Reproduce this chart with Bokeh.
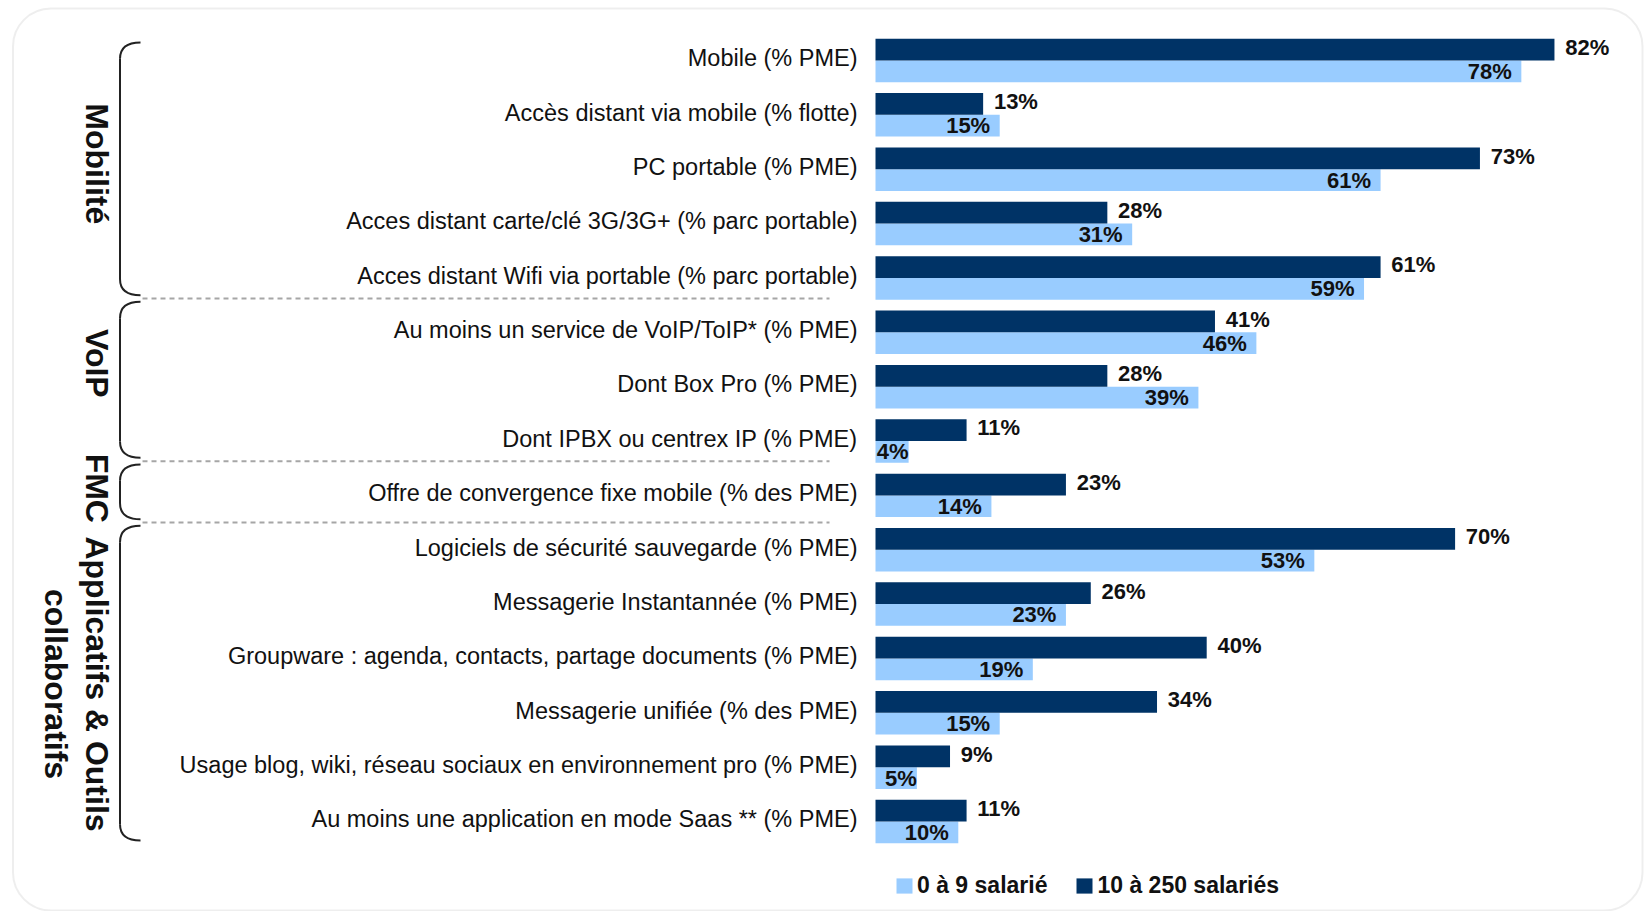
import math
from bokeh.plotting import figure
from bokeh.models import ColumnDataSource, Range1d, Legend, LegendItem, BoxAnnotation
from bokeh.core.properties import value
from bokeh.embed import file_html
from bokeh.resources import INLINE

# ---------------- data ----------------
categories = [
    "Mobile (% PME)",
    "Accès distant via mobile (% flotte)",
    "PC portable (% PME)",
    "Acces distant carte/clé 3G/3G+ (% parc portable)",
    "Acces distant Wifi via portable (% parc portable)",
    "Au moins un service de VoIP/ToIP* (% PME)",
    "Dont Box Pro (% PME)",
    "Dont IPBX ou centrex IP (% PME)",
    "Offre de convergence fixe mobile (% des PME)",
    "Logiciels de sécurité sauvegarde (% PME)",
    "Messagerie Instantannée (% PME)",
    "Groupware : agenda, contacts, partage documents (% PME)",
    "Messagerie unifiée (% des PME)",
    "Usage blog, wiki, réseau sociaux en environnement pro (% PME)",
    "Au moins une application en mode Saas ** (% PME)",
]
small_firms = [78, 15, 61, 31, 59, 46, 39, 4, 14, 53, 23, 19, 15, 5, 10]   # 0 à 9 salarié
large_firms = [82, 13, 73, 28, 61, 41, 28, 11, 23, 70, 26, 40, 34, 9, 11]  # 10 à 250 salariés
series_names = ["0 à 9 salarié", "10 à 250 salariés"]
group_names = ["Mobilité", "VoIP", "FMC", "Applicatifs & Outils"]
group_second_line = ["", "", "", "collaboratifs"]
group_last_row = [4, 7, 8, 14]

# ---------------- layout ----------------
W, H = 1644, 911
OFF = 0  # page offset of the figure
PX_PER_UNIT = 8.28
ZERO_X = 875 - OFF
ROW_PX = 54.36
ROW0_Y = 60 - OFF
x0 = -ZERO_X / PX_PER_UNIT
x1 = x0 + W / PX_PER_UNIT
ytop = -ROW0_Y / ROW_PX
ybot = ytop + H / ROW_PX


def px_x(page_x):
    return (page_x - OFF - ZERO_X) / PX_PER_UNIT


def px_y(page_y):
    return (page_y - OFF - ROW0_Y) / ROW_PX


DARK = "#003366"
LIGHT = "#99CCFF"
FONT = value("Liberation Sans")
BAR_H = 0.4
TXT_DY = -0.04
group_label_row = [1.9, 5.57, 7.87, 11.47]
sep_offset = [0.38, 0.37, 0.5]

p = figure(width=W, height=H, x_range=Range1d(x0, x1), y_range=Range1d(ybot, ytop),
           output_backend="svg", toolbar_location=None, min_border=0)
p.min_border_left = p.min_border_right = p.min_border_top = p.min_border_bottom = 0
p.axis.visible = False
p.grid.visible = False
p.outline_line_color = None
p.background_fill_color = "white"
p.border_fill_color = "white"

# rounded frame
frame = BoxAnnotation(left=px_x(12.5), right=px_x(1642), top=px_y(8), bottom=px_y(910),
                      fill_alpha=0, line_color="#c6c6c6", line_width=2, border_radius=38,
                      level="underlay")
p.add_layout(frame)

rows = list(range(len(categories)))
src = ColumnDataSource(dict(
    row=rows,
    yrow=[r + TXT_DY for r in rows],
    yd=[r - BAR_H / 2 for r in rows],
    yl=[r + BAR_H / 2 for r in rows],
    ydt=[r - BAR_H / 2 + TXT_DY for r in rows],
    small=small_firms,
    large=large_firms,
    cat=categories,
    small_txt=[f"{v}%" for v in small_firms],
    large_txt=[f"{v}%" for v in large_firms],
    small_x=[v - 1.15 if v >= 8 else v for v in small_firms],
    large_x=[v + 1.3 for v in large_firms],
))

r_light = p.hbar(y="yl", left=0, right="small", height=BAR_H, source=src,
                 fill_color=LIGHT, line_color=None)
r_dark = p.hbar(y="yd", left=0, right="large", height=BAR_H, source=src,
                fill_color=DARK, line_color=None)

# value labels
p.text(x="large_x", y="ydt", text="large_txt", source=src, text_font=FONT,
       text_font_style="bold", text_font_size="22px", text_color="#111111",
       text_align="left", text_baseline="middle")
p.text(x="small_x", y="yl", text="small_txt", source=src, text_font=FONT,
       text_font_style="bold", text_font_size="22px", text_color="#111111",
       text_align="right", text_baseline="middle")

# category labels
p.text(x=px_x(857), y="yrow", text="cat", source=src, text_font=FONT,
       text_font_size="23.5px", text_color="#111111", text_align="right",
       text_baseline="middle")

# separators between groups
seps = [e + o for e, o in zip(group_last_row[:-1], sep_offset)]
p.segment(x0=[px_x(142)] * len(seps), x1=[px_x(829)] * len(seps), y0=seps, y1=seps,
          line_dash="5 4", line_color="#a6a6a6", line_width=2)

# braces
tops = [-0.33] + [s + 0.06 for s in seps]
bots = [s - 0.06 for s in seps] + [group_last_row[-1] + 0.35]
xl = px_x(119.5)
xt = px_x(140)
r = 0.3
p.quadratic(x0=[xt] * 4, y0=tops, x1=[xl] * 4, y1=[t + r for t in tops],
            cx=[xl] * 4, cy=tops, line_color="#222222", line_width=2)
p.quadratic(x0=[xl] * 4, y0=[b - r for b in bots], x1=[xt] * 4, y1=bots,
            cx=[xl] * 4, cy=bots, line_color="#222222", line_width=2)
p.segment(x0=[xl] * 4, x1=[xl] * 4, y0=[t + r for t in tops], y1=[b - r for b in bots],
          line_color="#222222", line_width=2)

# group labels (rotated)
p.text(x=[px_x(96)] * 4, y=group_label_row, text=group_names, angle=-math.pi / 2,
       text_font=FONT, text_font_style="bold", text_font_size="32px",
       text_color="#111111", text_align="center", text_baseline="middle")
second = [(g, y) for g, y in zip(group_second_line, group_label_row) if g]
p.text(x=[px_x(55)] * len(second), y=[y for _, y in second], text=[g for g, _ in second],
       angle=-math.pi / 2, text_font=FONT, text_font_style="bold", text_font_size="32px",
       text_color="#111111", text_align="center", text_baseline="middle")

legend = Legend(items=[LegendItem(label=series_names[0], renderers=[r_light]),
                       LegendItem(label=series_names[1], renderers=[r_dark])],
                orientation="horizontal", location=(894 - OFF, 12),
                padding=0, margin=0,
                spacing=27, label_standoff=3, glyph_width=20, glyph_height=19,
                label_height=15, border_line_alpha=0, background_fill_alpha=0,
                label_text_font="Liberation Sans", label_text_font_style="bold",
                label_text_font_size="23px", label_text_color="#111111")
p.add_layout(legend)

open("out.html", "w").write(file_html(p, INLINE))
